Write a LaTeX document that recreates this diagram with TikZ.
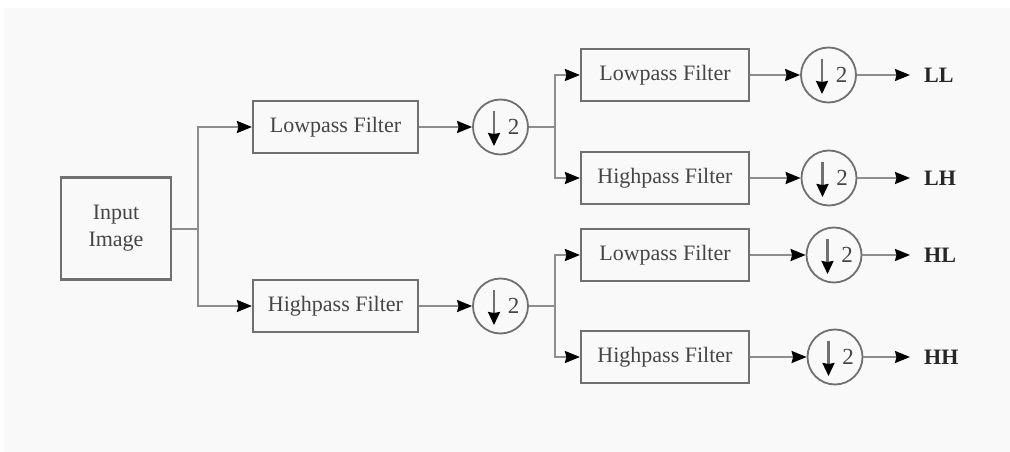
\documentclass[tikz,border=0pt]{standalone}
\usepackage{fontspec}
\setmainfont{Liberation Serif}
\usetikzlibrary{arrows.meta}
\definecolor{bg}{HTML}{F9F9F9}
\definecolor{boxc}{HTML}{707070}
\definecolor{linec}{HTML}{8E8E8E}
\definecolor{txtc}{HTML}{454545}
\tikzset{
  filt/.style={draw=boxc, line width=2.2pt, fill=bg, minimum width=165pt, minimum height=52pt, inner sep=0pt, text=txtc, font=\fontsize{22}{27}\selectfont},
  filtb/.style={filt, minimum width=168pt},
  inbox/.style={filt, minimum width=110pt, minimum height=102pt, align=center},
  down/.style={draw=boxc, line width=1.8pt, circle, minimum size=55pt, inner sep=0pt, fill=bg},
  two/.style={text=txtc, font=\fontsize{23}{23}\selectfont, inner sep=0pt},
  conn/.style={draw=linec, line width=2pt},
  arr/.style={conn, -{Stealth[length=15pt, width=12pt, inset=1.5pt, color=black]}},
  inarr/.style={draw=boxc, line width=2.2pt, -{Stealth[length=13pt, width=12pt, inset=1pt, color=black]}},
  lbl/.style={font=\bfseries\fontsize{22}{22}\selectfont, text=black!85, anchor=west, inner xsep=14pt, inner ysep=0pt},
}
\newcommand{\downsym}[2]{%
  \draw[inarr] ([xshift=-6.5pt,yshift=16pt]#1.center) -- ([xshift=-6.5pt,yshift=-19pt]#1.center);
  \node[two] (#2) at ([xshift=13pt]#1.center) {2};}
\begin{document}
\begin{tikzpicture}[x=1pt,y=-1pt]
\useasboundingbox (0,0) rectangle (1010,452);
\fill[bg] (4,8) rectangle (1010,452);
% nodes
\node[inbox] (in) at (116,228.5) {Input\\Image};
\node[filt] (lp1) at (335.5,127) {Lowpass Filter};
\node[filt] (hp1) at (335.5,306) {Highpass Filter};
\node[down] (d1) at (500.5,127) {};
\node[down] (d2) at (500.5,306) {};
\node[filtb] (lpa) at (665,75) {Lowpass Filter};
\node[filtb] (hpa) at (665,178) {Highpass Filter};
\node[filtb] (lpb) at (665,255) {Lowpass Filter};
\node[filtb] (hpb) at (665,357) {Highpass Filter};
\node[down] (d3) at (828.5,75) {};
\node[down] (d4) at (829,178) {};
\node[down] (d5) at (834,255) {};
\node[down] (d6) at (835,357) {};
\node[lbl] (LL) at (910,75) {LL};
\node[lbl] (LH) at (910,178) {LH};
\node[lbl] (HL) at (910,255) {HL};
\node[lbl] (HH) at (910,357) {HH};
\downsym{d1}{t1}
\downsym{d2}{t2}
\downsym{d3}{t3}
\downsym{d4}{t4}
\downsym{d5}{t5}
\downsym{d6}{t6}
% junctions
\coordinate (j1) at (198,228.5);
\coordinate (j2) at (555,127);
\coordinate (j3) at (555,306);
% connectors
\draw[conn] (in.east) -- (j1);
\draw[arr] (j1) |- (lp1.west);
\draw[arr] (j1) |- (hp1.west);
\draw[arr] (lp1.east) -- (d1.west);
\draw[arr] (hp1.east) -- (d2.west);
\draw[conn] (d1.east) -- (j2);
\draw[conn] (d2.east) -- (j3);
\draw[arr] (j2) |- (lpa.west);
\draw[arr] (j2) |- (hpa.west);
\draw[arr] (j3) |- (lpb.west);
\draw[arr] (j3) |- (hpb.west);
\draw[arr] (lpa.east) -- (d3.west);
\draw[arr] (hpa.east) -- (d4.west);
\draw[arr] (lpb.east) -- (d5.west);
\draw[arr] (hpb.east) -- (d6.west);
\draw[arr] (d3.east) -- (LL.west);
\draw[arr] (d4.east) -- (LH.west);
\draw[arr] (d5.east) -- (HL.west);
\draw[arr] (d6.east) -- (HH.west);
\end{tikzpicture}
\end{document}
